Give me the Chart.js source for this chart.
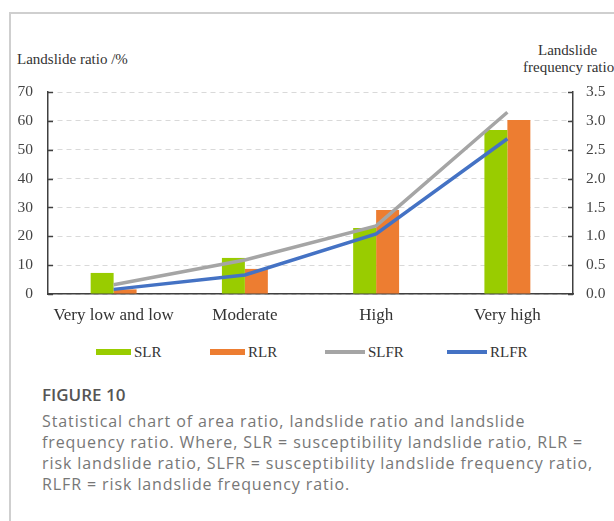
<!DOCTYPE html>
<html>
<head>
    <title>Figure 10</title>
    <style>
        body {
            margin: 0;
            width: 614px;
            height: 521px;
            background: #ffffff;
            overflow: hidden;
            position: relative;
            font-family: 'Liberation Serif', serif;
        }
        #frame {
            position: absolute;
            left: 9px;
            top: 12px;
            width: 700px;
            height: 600px;
            border-left: 2px solid #cfcfcf;
            border-top: 2px solid #cfcfcf;
        }
        #chart-container {
            position: absolute;
            left: 0;
            top: 0;
            width: 614px;
            height: 326px;
        }
        .axis-title {
            position: absolute;
            font-size: 15px;
            color: #333;
            white-space: nowrap;
        }
        #legend {
            position: absolute;
            top: 343px;
            left: 0;
            width: 614px;
            height: 18px;
            font-size: 15px;
            color: #333;
        }
        #legend .item {
            position: absolute;
            top: 0;
            display: flex;
            align-items: center;
            height: 18px;
            white-space: nowrap;
        }
        #legend .swatch {
            display: inline-block;
            margin-right: 3px;
        }
        #caption {
            position: absolute;
            left: 42px;
            top: 384px;
            font-family: 'Open Sans', sans-serif;
            color: #777;
            font-size: 16px;
            letter-spacing: 0.9px;
            line-height: 21px;
            white-space: nowrap;
        }
        #caption .fig {
            color: #555;
            font-size: 17px;
            font-weight: 600;
            letter-spacing: 0;
            height: 27px;
        }
    </style>
    <script src="https://cdn.jsdelivr.net/npm/chart.js"></script>
</head>
<body>
    <div id="frame"></div>
    <div class="axis-title" style="left:17px; top:51px;">Landslide ratio /%</div>
    <div class="axis-title" style="left:538px; top:42px;">Landslide</div>
    <div class="axis-title" style="left:523px; top:59px;">frequency ratio</div>
    <div id="chart-container">
        <canvas id="ratioChart"></canvas>
    </div>
    <div id="legend"></div>
    <div id="caption">
        <div class="fig">FIGURE 10</div>
        Statistical chart of area ratio, landslide ratio and landslide<br>
        frequency ratio. Where, SLR = susceptibility landslide ratio, RLR =<br>
        risk landslide ratio, SLFR = susceptibility landslide frequency ratio,<br>
        RLFR = risk landslide frequency ratio.
    </div>
    <script>
        const categories = ['Very low and low', 'Moderate', 'High', 'Very high'];
        const slr = [7.3, 12.5, 22.9, 56.8];      // susceptibility landslide ratio (%)
        const rlr = [1.6, 8.7, 29.1, 60.3];       // risk landslide ratio (%)
        const slfr = [0.16, 0.59, 1.18, 3.15];    // susceptibility landslide frequency ratio
        const rlfr = [0.08, 0.33, 1.04, 2.69];    // risk landslide frequency ratio
        const leftTicks = [0, 10, 20, 30, 40, 50, 60, 70];
        const rightTicks = [0, 0.5, 1.0, 1.5, 2.0, 2.5, 3.0, 3.5];

        const tickFont = { family: 'Liberation Serif', size: 15.5 };
        const axisColor = '#404040';

        // small inward tick marks on both value axes
        const innerTicks = {
            id: 'innerTicks',
            afterDraw(chart) {
                const ctx = chart.ctx;
                ctx.save();
                ctx.strokeStyle = axisColor;
                ctx.lineWidth = 1.5;
                [['y', 1], ['y1', -1]].forEach(([id, dir]) => {
                    const scale = chart.scales[id];
                    const x = dir > 0 ? scale.right : scale.left;
                    scale.ticks.forEach(t => {
                        const y = Math.round(scale.getPixelForValue(t.value)) + 0.5;
                        ctx.beginPath();
                        ctx.moveTo(x, y);
                        ctx.lineTo(x + dir * 5, y);
                        ctx.stroke();
                    });
                });
                ctx.restore();
            }
        };

        const ctx = document.getElementById('ratioChart').getContext('2d');
        const chart = new Chart(ctx, {
            data: {
                labels: categories,
                datasets: [
                    { type: 'bar', label: 'SLR', data: slr, backgroundColor: '#99cc00', yAxisID: 'y', order: 2 },
                    { type: 'bar', label: 'RLR', data: rlr, backgroundColor: '#ed7d31', yAxisID: 'y', order: 2 },
                    { type: 'line', label: 'SLFR', data: slfr, borderColor: '#a5a5a5', backgroundColor: '#a5a5a5',
                      borderWidth: 3.5, pointRadius: 0, tension: 0, yAxisID: 'y1', order: 1 },
                    { type: 'line', label: 'RLFR', data: rlfr, borderColor: '#4472c4', backgroundColor: '#4472c4',
                      borderWidth: 3.5, pointRadius: 0, tension: 0, yAxisID: 'y1', order: 0 }
                ]
            },
            options: {
                responsive: true,
                maintainAspectRatio: false,
                animation: false,
                datasets: {
                    bar: { categoryPercentage: 0.35, barPercentage: 1.0 }
                },
                layout: { padding: { top: 92, left: 0, right: 0, bottom: 0 } },
                scales: {
                    x: {
                        grid: { display: false, drawTicks: false },
                        border: { color: axisColor, width: 1.5 },
                        ticks: { font: { family: 'Liberation Serif', size: 17 }, color: '#333', padding: 11, maxRotation: 0 },
                        afterFit(scale) { scale.height = 32; }
                    },
                    y: {
                        position: 'left',
                        min: 0,
                        max: 70,
                        afterBuildTicks(scale) { scale.ticks = leftTicks.map(v => ({ value: v })); },
                        grid: { color: '#d9d9d9', lineWidth: 1, drawTicks: false },
                        border: { color: axisColor, width: 1.5, dash: [5, 4] },
                        ticks: { font: tickFont, color: '#444', padding: 15 },
                        afterFit(scale) { scale.width = 48; }
                    },
                    y1: {
                        position: 'right',
                        min: 0,
                        max: 3.5,
                        afterBuildTicks(scale) { scale.ticks = rightTicks.map(v => ({ value: v })); },
                        grid: { drawOnChartArea: false, drawTicks: false },
                        border: { color: axisColor, width: 1.5 },
                        ticks: { font: tickFont, color: '#444', padding: 13,
                                 callback: v => Number(v).toFixed(1) },
                        afterFit(scale) { scale.width = 41; }
                    }
                },
                plugins: {
                    legend: { display: false },
                    tooltip: { enabled: false }
                }
            },
            plugins: [innerTicks]
        });

        // legend built from the chart's datasets
        const legendLefts = [96, 210, 325, 447];
        const legendEl = document.getElementById('legend');
        chart.data.datasets.forEach((ds, i) => {
            const item = document.createElement('div');
            item.className = 'item';
            item.style.left = legendLefts[i] + 'px';
            const sw = document.createElement('span');
            sw.className = 'swatch';
            const isLine = ds.type === 'line';
            sw.style.width = (isLine ? 40 : 35) + 'px';
            sw.style.height = (isLine ? 4 : 6) + 'px';
            sw.style.background = isLine ? ds.borderColor : ds.backgroundColor;
            const txt = document.createElement('span');
            txt.textContent = ds.label;
            item.appendChild(sw);
            item.appendChild(txt);
            legendEl.appendChild(item);
        });
    </script>
</body>
</html>
